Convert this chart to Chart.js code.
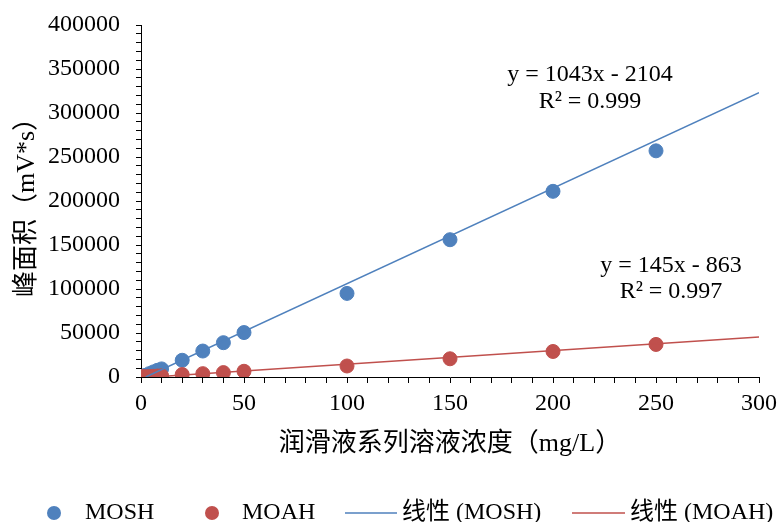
<!DOCTYPE html>
<html>
<head>
<meta charset="utf-8">
<script src="https://cdn.jsdelivr.net/npm/chart.js@4"></script>
<style>
  html, body { margin: 0; padding: 0; background: #fff; }
</style>
</head>
<body>
<canvas id="chart" width="777" height="522"></canvas>
<script>
// concentrations (mg/L) and peak areas (mV*s)
const concentrations = [0.5, 1, 2, 4, 6, 8, 10, 20, 30, 40, 50, 100, 150, 200, 250];
const moshArea = [400, 900, 1800, 3800, 5800, 7600, 9200, 19000, 29500, 39000, 50500, 95000, 156000, 211000, 257000];
const moahArea = [100, 150, 300, 550, 800, 1100, 1400, 2800, 3800, 5000, 6500, 12500, 20700, 29000, 37000];

// trend lines as drawn (end points)
const moshTrendX = [2.3, 300];
const moshTrendY = [0, 323000];
const moahTrendX = [5.8, 300];
const moahTrendY = [0, 45400];

const moshLabel = 'y = 1043x - 2104';
const moshR2 = 'R² = 0.999';
const moahLabel = 'y = 145x - 863';
const moahR2 = 'R² = 0.997';

const xTitle = '润滑液系列溶液浓度（mg/L）';
const yTitle = '峰面积（mV*s）';

const BLUE = '#4F81BD';
const RED = '#C0504D';
const FONT = "'Liberation Serif', 'Times New Roman', 'Noto Sans CJK SC', serif";

function pts(xs, ys) {
    return xs.map((x, i) => ({ x: x, y: ys[i] }));
}

const notes = {
    id: 'notes',
    afterDatasetsDraw(chart) {
        const ctx = chart.ctx;
        ctx.save();
        ctx.fillStyle = '#000';
        ctx.font = '24px ' + FONT;
        ctx.textAlign = 'center';
        ctx.textBaseline = 'middle';
        ctx.fillText(moshLabel, 590, 75);
        ctx.fillText(moshR2, 590, 102);
        ctx.fillText(moahLabel, 671, 266);
        ctx.fillText(moahR2, 671, 292);
        ctx.restore();
    },
    afterDraw(chart) {
        // legend row along the bottom
        const ctx = chart.ctx;
        const y = 513;
        ctx.save();
        ctx.font = '24px ' + FONT;
        ctx.textBaseline = 'middle';
        ctx.textAlign = 'left';

        ctx.fillStyle = BLUE;
        ctx.beginPath(); ctx.arc(54, y, 7, 0, Math.PI * 2); ctx.fill();
        ctx.fillStyle = RED;
        ctx.beginPath(); ctx.arc(212, y, 7, 0, Math.PI * 2); ctx.fill();

        ctx.lineWidth = 1.5;
        ctx.strokeStyle = BLUE;
        ctx.beginPath(); ctx.moveTo(345, y); ctx.lineTo(397, y); ctx.stroke();
        ctx.strokeStyle = RED;
        ctx.beginPath(); ctx.moveTo(572, y); ctx.lineTo(625, y); ctx.stroke();

        ctx.fillStyle = '#000';
        const ds = chart.data.datasets;
        ctx.fillText(ds[0].label, 85, y);
        ctx.fillText(ds[1].label, 242, y);
        ctx.fillText(ds[2].label, 402, y);
        ctx.fillText(ds[3].label, 630, y);
        ctx.restore();
    }
};

new Chart(document.getElementById('chart'), {
    type: 'scatter',
    data: {
        datasets: [
            { label: 'MOSH', data: pts(concentrations, moshArea), backgroundColor: BLUE, borderColor: BLUE, borderWidth: 1, pointRadius: 7, order: 3 },
            { label: 'MOAH', data: pts(concentrations, moahArea), backgroundColor: RED, borderColor: RED, borderWidth: 1, pointRadius: 7, order: 2 },
            { label: '线性 (MOSH)', data: pts(moshTrendX, moshTrendY), showLine: true, borderColor: BLUE, borderWidth: 1.5, pointRadius: 0, order: 1 },
            { label: '线性 (MOAH)', data: pts(moahTrendX, moahTrendY), showLine: true, borderColor: RED, borderWidth: 1.5, pointRadius: 0, order: 1 }
        ]
    },
    options: {
        responsive: false,
        animation: false,
        layout: { padding: { top: 25, right: 18, bottom: 57, left: 0 } },
        plugins: {
            legend: { display: false },
            tooltip: { enabled: false }
        },
        scales: {
            x: {
                type: 'linear',
                min: 0,
                max: 300,
                afterFit: s => { s.height = 88; s.paddingLeft = 0; s.paddingRight = 0; },
                border: { color: '#000', width: 1 },
                grid: { drawOnChartArea: false, tickLength: 6, color: '#000', tickColor: '#000' },
                ticks: {
                    stepSize: 10, autoSkip: false, maxRotation: 0, padding: 6, color: '#000',
                    font: { family: FONT, size: 24 },
                    callback: v => Math.round(v) % 50 === 0 ? Math.round(v) : ''
                },
                title: { display: true, text: xTitle, color: '#000', font: { family: FONT, size: 26 }, padding: { top: 0, bottom: 5 } }
            },
            y: {
                min: 0,
                max: 400000,
                afterFit: s => { s.width = 141; s.paddingTop = 0; s.paddingBottom = 0; },
                border: { color: '#000', width: 1 },
                grid: { drawOnChartArea: false, tickLength: 5, color: '#000', tickColor: '#000' },
                ticks: {
                    stepSize: 10000, autoSkip: false, padding: 16, color: '#000',
                    font: { family: FONT, size: 24 },
                    callback: v => Math.round(v) % 50000 === 0 ? Math.round(v) : ''
                },
                title: { display: true, text: yTitle, color: '#000', font: { family: FONT, size: 26 }, padding: { top: 12, bottom: 0 } }
            }
        }
    },
    plugins: [notes]
});
</script>
</body>
</html>
